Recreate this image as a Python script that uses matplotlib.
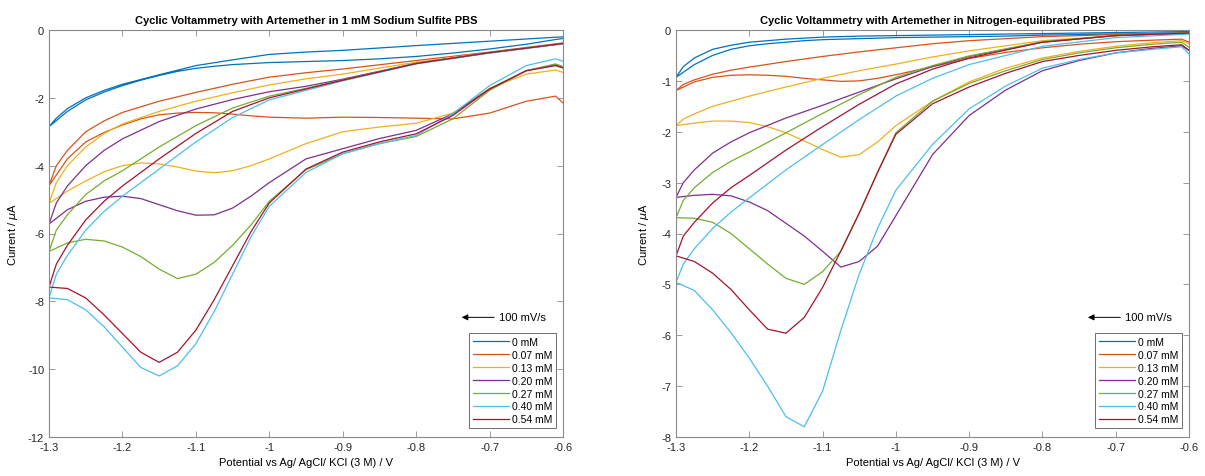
import matplotlib
matplotlib.use("Agg")
import matplotlib.pyplot as plt
from matplotlib.ticker import FuncFormatter

# ---------------------------------------------------------------------------
# Data (current in uA, potential in V)
# forward scan runs -0.6 -> -1.3, reverse scan runs back -1.3 -> -0.6
# ---------------------------------------------------------------------------
labels = ["0 mM", "0.07 mM", "0.13 mM", "0.20 mM", "0.27 mM", "0.40 mM", "0.54 mM"]
colors = ["#0072BD", "#D95319", "#EDB120", "#7E2F8E", "#77AC30", "#4DBEEE", "#A2142F"]

e_fwd = [-0.60, -0.61, -0.65, -0.70, -0.75, -0.80, -0.85, -0.90, -0.95, -1.00, -1.025,
         -1.05, -1.075, -1.10, -1.125, -1.15, -1.175, -1.20, -1.225, -1.25, -1.275, -1.30]
e_rev = [-1.30, -1.29, -1.275, -1.25, -1.225, -1.20, -1.15, -1.10, -1.05, -1.00, -0.95,
         -0.90, -0.80, -0.70, -0.60]

# sodium sulfite PBS
sulfite_fwd = [
    [-0.25, -0.28, -0.42, -0.56, -0.68, -0.78, -0.85, -0.90, -0.93, -0.96, -0.99, -1.02, -1.07, -1.13, -1.22, -1.34, -1.48, -1.64, -1.83, -2.06, -2.40, -2.85],
    [-2.15, -1.95, -2.10, -2.45, -2.62, -2.60, -2.58, -2.57, -2.60, -2.57, -2.53, -2.48, -2.44, -2.43, -2.45, -2.50, -2.62, -2.80, -3.02, -3.30, -3.80, -4.59],
    [-1.25, -1.18, -1.30, -1.72, -2.45, -2.75, -2.86, -3.00, -3.35, -3.80, -4.00, -4.15, -4.21, -4.16, -4.04, -3.95, -3.92, -4.00, -4.18, -4.45, -4.75, -5.11],
    [-1.10, -1.02, -1.20, -1.74, -2.47, -2.96, -3.20, -3.50, -3.80, -4.50, -4.90, -5.25, -5.45, -5.46, -5.33, -5.15, -4.97, -4.90, -4.93, -5.05, -5.30, -5.72],
    [-1.08, -1.00, -1.20, -1.78, -2.62, -3.14, -3.35, -3.65, -4.12, -5.05, -5.75, -6.35, -6.85, -7.20, -7.33, -7.05, -6.68, -6.40, -6.22, -6.17, -6.28, -6.53],
    [-0.92, -0.85, -1.05, -1.64, -2.47, -3.11, -3.35, -3.65, -4.20, -5.20, -6.10, -7.20, -8.30, -9.25, -9.90, -10.20, -9.95, -9.35, -8.75, -8.25, -7.95, -7.90],
    [-1.12, -1.05, -1.20, -1.74, -2.52, -3.06, -3.30, -3.60, -4.10, -5.10, -5.95, -6.95, -7.95, -8.85, -9.50, -9.80, -9.50, -8.95, -8.40, -7.90, -7.62, -7.58],
]
sulfite_rev = [
    [-2.85, -2.60, -2.32, -2.00, -1.78, -1.60, -1.32, -1.05, -0.88, -0.72, -0.65, -0.60, -0.46, -0.33, -0.20],
    [-4.59, -4.00, -3.55, -3.00, -2.68, -2.43, -2.10, -1.84, -1.60, -1.39, -1.26, -1.15, -0.90, -0.65, -0.38],
    [-5.11, -4.50, -4.00, -3.45, -3.05, -2.77, -2.40, -2.10, -1.85, -1.62, -1.44, -1.30, -0.95, -0.67, -0.39],
    [-5.72, -5.10, -4.60, -4.00, -3.55, -3.21, -2.70, -2.33, -2.05, -1.82, -1.66, -1.45, -0.98, -0.67, -0.40],
    [-6.53, -5.90, -5.45, -4.85, -4.45, -4.15, -3.45, -2.82, -2.30, -1.95, -1.72, -1.47, -0.99, -0.67, -0.40],
    [-7.90, -7.20, -6.65, -5.90, -5.35, -4.90, -4.10, -3.30, -2.58, -2.06, -1.78, -1.50, -1.00, -0.68, -0.41],
    [-7.58, -6.90, -6.35, -5.60, -5.05, -4.60, -3.80, -3.05, -2.40, -2.00, -1.74, -1.48, -0.99, -0.67, -0.40],
]

# nitrogen-equilibrated PBS
nitrogen_fwd = [
    [-0.05, -0.06, -0.07, -0.08, -0.09, -0.10, -0.12, -0.13, -0.14, -0.15, -0.16, -0.17, -0.18, -0.19, -0.21, -0.24, -0.27, -0.31, -0.38, -0.50, -0.68, -0.93],
    [-0.24, -0.18, -0.20, -0.23, -0.28, -0.35, -0.44, -0.56, -0.72, -0.88, -0.95, -1.00, -1.01, -0.98, -0.95, -0.91, -0.89, -0.88, -0.89, -0.93, -1.02, -1.19],
    [-0.27, -0.21, -0.25, -0.32, -0.42, -0.55, -0.75, -1.02, -1.40, -1.88, -2.20, -2.45, -2.50, -2.35, -2.18, -2.02, -1.90, -1.82, -1.79, -1.79, -1.83, -1.88],
    [-0.40, -0.31, -0.36, -0.45, -0.60, -0.80, -1.18, -1.68, -2.45, -3.65, -4.25, -4.55, -4.66, -4.35, -4.05, -3.80, -3.55, -3.38, -3.26, -3.23, -3.25, -3.29],
    [-0.34, -0.24, -0.28, -0.35, -0.45, -0.58, -0.80, -1.05, -1.40, -2.02, -2.80, -3.60, -4.35, -4.75, -5.00, -4.88, -4.60, -4.30, -4.00, -3.78, -3.70, -3.69],
    [-0.47, -0.33, -0.38, -0.45, -0.58, -0.75, -1.10, -1.55, -2.25, -3.15, -3.90, -4.80, -5.90, -7.10, -7.80, -7.60, -7.00, -6.45, -5.95, -5.50, -5.12, -4.96],
    [-0.40, -0.29, -0.33, -0.40, -0.50, -0.62, -0.85, -1.12, -1.45, -2.05, -2.80, -3.60, -4.34, -5.06, -5.65, -5.96, -5.88, -5.50, -5.10, -4.78, -4.55, -4.44],
]
nitrogen_rev = [
    [-0.93, -0.72, -0.55, -0.38, -0.30, -0.24, -0.18, -0.14, -0.12, -0.11, -0.10, -0.09, -0.07, -0.05, -0.03],
    [-1.19, -1.07, -0.98, -0.87, -0.79, -0.73, -0.62, -0.52, -0.43, -0.35, -0.27, -0.21, -0.13, -0.09, -0.06],
    [-1.88, -1.75, -1.65, -1.50, -1.40, -1.30, -1.12, -0.95, -0.80, -0.67, -0.53, -0.41, -0.21, -0.11, -0.06],
    [-3.29, -3.00, -2.75, -2.42, -2.20, -2.02, -1.73, -1.48, -1.22, -0.96, -0.72, -0.52, -0.24, -0.11, -0.06],
    [-3.69, -3.35, -3.10, -2.80, -2.58, -2.40, -2.02, -1.64, -1.27, -0.93, -0.70, -0.51, -0.23, -0.11, -0.06],
    [-4.96, -4.60, -4.30, -3.90, -3.58, -3.30, -2.75, -2.25, -1.76, -1.30, -0.95, -0.68, -0.32, -0.15, -0.08],
    [-4.44, -4.05, -3.78, -3.40, -3.10, -2.86, -2.36, -1.90, -1.46, -1.06, -0.77, -0.55, -0.24, -0.11, -0.06],
]

x_ticks = [-1.3, -1.2, -1.1, -1.0, -0.9, -0.8, -0.7, -0.6]

plt.rcParams["font.family"] = ["Liberation Sans", "DejaVu Sans"]
plt.rcParams["font.size"] = 8


# ---------------------------------------------------------------------------
# one panel, MATLAB-like look
# ---------------------------------------------------------------------------
def draw_panel(ax, fwd, rev, title, ylim, yticks, ylabel_x):
    for i in range(len(labels)):
        ax.plot(e_fwd + e_rev, fwd[i] + rev[i], color=colors[i], lw=0.9, label=labels[i])

    ax.set_xlim(-1.3, -0.6)
    ax.set_ylim(*ylim)
    ax.set_xticks(x_ticks)
    ax.set_yticks(yticks)
    ax.xaxis.set_major_formatter(FuncFormatter(lambda v, _: "%g" % round(v, 2)))
    ax.yaxis.set_major_formatter(FuncFormatter(lambda v, _: "%g" % v))
    ax.tick_params(direction="in", length=4, width=0.6, top=True, right=True,
                   colors="#8a8a8a", labelcolor="#262626", labelsize=8)
    for s in ax.spines.values():
        s.set_color("#8a8a8a")
        s.set_linewidth(0.8)

    ax.set_title(title, fontweight="bold", fontsize=8, pad=5)
    ax.set_xlabel("Potential vs Ag/ AgCl/ KCl (3 M) / V", fontsize=8, labelpad=4)
    ax.set_ylabel("Current / $\\mu$A", fontsize=8)
    ax.yaxis.set_label_coords(ylabel_x, 0.5)

    # scan direction marker
    ax.annotate("", xy=(0.803, 0.294), xytext=(0.866, 0.294), xycoords="axes fraction",
                arrowprops=dict(arrowstyle="-|>", color="black", lw=0.7,
                                mutation_scale=9, shrinkA=0, shrinkB=0))
    ax.text(0.876, 0.294, "100 mV/s", transform=ax.transAxes, fontsize=8,
            va="center", ha="left")

    leg = ax.legend(loc="lower right", bbox_to_anchor=(0.986, 0.022), fontsize=7.5,
                    frameon=True, fancybox=False, framealpha=1, edgecolor="#555555",
                    handlelength=3.4, handletextpad=0.3, labelspacing=0.28,
                    borderpad=0.35, borderaxespad=0)
    leg.get_frame().set_linewidth(0.6)


fig = plt.figure(figsize=(12.05, 4.77), dpi=100)
ax1 = fig.add_axes([49 / 1205, 39 / 477, 514 / 1205, 407 / 477])
ax2 = fig.add_axes([676 / 1205, 39 / 477, 513 / 1205, 407 / 477])

draw_panel(ax1, sulfite_fwd, sulfite_rev,
           "Cyclic Voltammetry with Artemether in 1 mM Sodium Sulfite PBS",
           (-12, 0), list(range(-12, 1, 2)), -0.056)
draw_panel(ax2, nitrogen_fwd, nitrogen_rev,
           "Cyclic Voltammetry with Artemether in Nitrogen-equilibrated PBS",
           (-8, 0), list(range(-8, 1, 1)), -0.048)

fig.savefig("out.png", dpi=100)
